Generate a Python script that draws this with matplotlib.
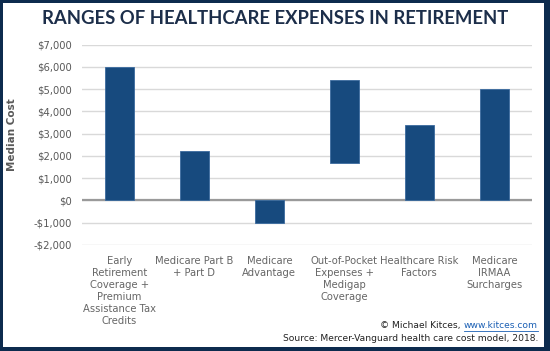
import numpy as np
import matplotlib.pyplot as plt
from matplotlib.patches import Rectangle

categories = [
    "Early\nRetirement\nCoverage +\nPremium\nAssistance Tax\nCredits",
    "Medicare Part B\n+ Part D",
    "Medicare\nAdvantage",
    "Out-of-Pocket\nExpenses +\nMedigap\nCoverage",
    "Healthcare Risk\nFactors",
    "Medicare\nIRMAA\nSurcharges",
]
low = [0, 0, -1000, 1700, 0, 0]
high = [6000, 2200, 0, 5400, 3400, 5000]
yticks = [-2000, -1000, 0, 1000, 2000, 3000, 4000, 5000, 6000, 7000]

navy = "#0d2b4e"
bar_color = "#174a7e"
gray = "#595959"
W, H = 550, 351

fig = plt.figure(figsize=(5.5, 3.51), dpi=100)
fig.patch.set_facecolor("white")

# dark frame round the picture: left, top, right, bottom thickness in px
for (x0, y0, w, h) in [(0, 0, 3, H), (0, H - 3, W, 3), (W - 6, 0, 6, H), (0, 0, W, 4)]:
    fig.patches.append(Rectangle((x0 / W, y0 / H), w / W, h / H, transform=fig.transFigure,
                                 facecolor=navy, edgecolor="none", zorder=10))

ax = fig.add_axes([0.149, 0.302, 0.818, 0.571])
x = np.arange(len(categories))
heights = np.array(high) - np.array(low)
ax.bar(x, heights, bottom=low, width=0.38, color=bar_color,
       edgecolor="#3a6a9e", linewidth=0.6, zorder=3)

ax.set_xlim(-0.5, len(categories) - 0.5)
ax.set_ylim(-2000, 7000)
ax.set_yticks(yticks)
ax.set_yticklabels([f"-${-v:,}" if v < 0 else f"${v:,}" for v in yticks])
ax.yaxis.grid(True, color="#d9d9d9", linewidth=1, zorder=0)
ax.axhline(0, color="#9a9a9a", linewidth=1.6, zorder=2)
for s in ax.spines.values():
    s.set_visible(False)
ax.tick_params(axis="both", length=0, colors=gray, labelsize=7.2)
ax.tick_params(axis="y", pad=7)
ax.set_xticks(x)
ax.set_xticklabels(categories, linespacing=1.25, va="top", color="#666666")
ax.tick_params(axis="x", pad=8)
ax.set_ylabel("Median Cost", color=gray, fontsize=7.5, fontweight="bold")
ax.yaxis.set_label_coords(-0.144, 0.55)

fig.text(0.5, 0.947, "RANGES OF HEALTHCARE EXPENSES IN RETIREMENT",
         ha="center", va="center", fontsize=13.3, fontweight="bold",
         color="#1c2e4a", family="Lato")

# footer, link placed after the first part using the renderer
fig.canvas.draw()
r = fig.canvas.get_renderer()
link = fig.text(538 / W, 0.072, "www.kitces.com", ha="right", va="center",
                fontsize=6.6, color="#1a5fb4")
bb = link.get_window_extent(r)
fig.text(bb.x0 / W - 0.006, 0.072, "\u00a9 Michael Kitces,", ha="right", va="center",
         fontsize=6.6, color="#222222")
fig.add_artist(plt.Line2D([bb.x0 / W, bb.x1 / W], [(bb.y0 - 0.5) / H] * 2,
                          color="#1a5fb4", linewidth=0.6, transform=fig.transFigure))
fig.text(538 / W, 0.037, "Source: Mercer-Vanguard health care cost model, 2018.",
         ha="right", va="center", fontsize=6.6, color="#222222")

fig.savefig("out.png", dpi=100)
